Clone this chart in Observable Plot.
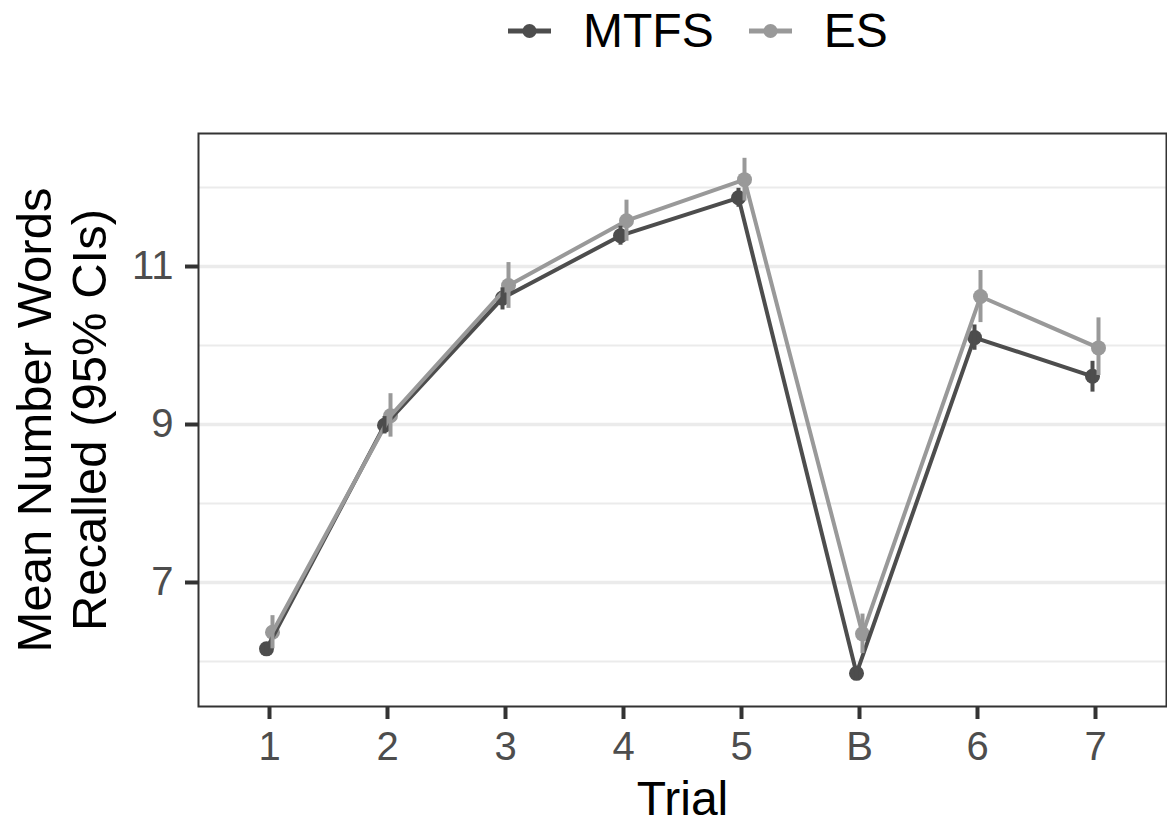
<!DOCTYPE html>
<html>
<head>
<meta charset="utf-8">
<script src="https://cdn.jsdelivr.net/npm/d3@7"></script>
<script src="https://cdn.jsdelivr.net/npm/@observablehq/plot@0.6"></script>
<style>
  html, body { margin: 0; padding: 0; background: #fff; }
  #wrap { position: relative; width: 1167px; height: 823px; font-family: "Liberation Sans", Arial, sans-serif; }
  #legend { position: absolute; left: 508px; top: 1px; height: 60px; display: flex; align-items: center; font-size: 48px; color: #000; }
  #legend .key { display: block; }
  #chart { position: absolute; left: 0; top: 0; }
</style>
</head>
<body>
<div id="wrap">
  <div id="chart"></div>
  <div id="legend"></div>
</div>
<script>
// Categories
const trials = ["1", "2", "3", "4", "5", "B", "6", "7"];
const seriesNames = ["MTFS", "ES"];
const seriesColors = ["#4d4d4d", "#999999"];

// MTFS series (mean and 95% CI)
const mtfsMean = [6.16, 8.99, 10.60, 11.39, 11.87, 5.85, 10.10, 9.61];
const mtfsLow  = [6.09, 8.88, 10.45, 11.27, 11.75, 5.77, 9.94, 9.41];
const mtfsHigh = [6.23, 9.10, 10.73, 11.51, 11.99, 5.93, 10.26, 9.80];

// ES series (mean and 95% CI)
const esMean = [6.37, 9.11, 10.76, 11.58, 12.10, 6.35, 10.62, 9.97];
const esLow  = [6.16, 8.84, 10.47, 11.32, 11.83, 6.10, 10.29, 9.62];
const esHigh = [6.58, 9.39, 11.05, 11.84, 12.37, 6.60, 10.95, 10.35];

// Axis ticks
const yMajor = [7, 9, 11];
const yMinor = [6, 8, 10, 12];

const xTitle = "Trial";
const yTitle = "Mean Number Words\nRecalled (95% CIs)";

const mtfs = trials.map((t, i) => ({trial: t, mean: mtfsMean[i], low: mtfsLow[i], high: mtfsHigh[i]}));
const es = trials.map((t, i) => ({trial: t, mean: esMean[i], low: esLow[i], high: esHigh[i]}));

const mtfsColor = seriesColors[0], esColor = seriesColors[1];
const lw = 4, r = 7.5, off = 3;

const chart = Plot.plot({
  width: 1167,
  height: 823,
  marginLeft: 198,
  marginRight: 1,
  marginTop: 133,
  marginBottom: 117,
  style: {fontFamily: "'Liberation Sans', Arial, sans-serif", background: "white", overflow: "visible"},
  x: {type: "point", domain: trials, padding: 0.6, label: null},
  y: {domain: [5.43, 12.684], label: null},
  marks: [
    Plot.ruleY(yMinor, {stroke: "#ebebeb", strokeWidth: 2}),
    Plot.ruleY(yMajor, {stroke: "#ebebeb", strokeWidth: 3.5}),
    Plot.dot(mtfs, {x: "trial", y: "mean", r, fill: mtfsColor, dx: -off}),
    Plot.dot(es, {x: "trial", y: "mean", r, fill: esColor, dx: off}),
    Plot.line(mtfs, {x: "trial", y: "mean", stroke: mtfsColor, strokeWidth: lw, dx: -off}),
    Plot.line(es, {x: "trial", y: "mean", stroke: esColor, strokeWidth: lw, dx: off}),
    Plot.ruleX(es, {x: "trial", y1: "low", y2: "high", stroke: esColor, strokeWidth: lw, dx: off}),
    Plot.ruleX(mtfs, {x: "trial", y1: "low", y2: "high", stroke: mtfsColor, strokeWidth: lw, dx: -off}),
    Plot.frame({stroke: "#333333", strokeWidth: 2}),
    Plot.axisX({tickSize: 13, tickPadding: 12, stroke: "#333333", strokeWidth: 4, fill: "#4d4d4d", fontSize: 40, label: null}),
    Plot.axisY({ticks: yMajor, tickSize: 13, tickPadding: 12, stroke: "#333333", strokeWidth: 4, fill: "#4d4d4d", fontSize: 40, label: null}),
    Plot.text([xTitle], {frameAnchor: "bottom", lineAnchor: "bottom", dy: 108, fontSize: 48, fill: "black"}),
    Plot.text([yTitle], {frameAnchor: "left", rotate: -90, textAnchor: "middle", lineAnchor: "middle", lineHeight: 1.12, dx: -138, fontSize: 49, fill: "black"})
  ]
});
document.getElementById("chart").appendChild(chart);

// Legend (HTML)
const legend = document.getElementById("legend");
seriesNames.forEach((name, i) => {
  const ns = "http://www.w3.org/2000/svg";
  const svg = document.createElementNS(ns, "svg");
  svg.setAttribute("width", 43);
  svg.setAttribute("height", 16);
  svg.setAttribute("class", "key");
  const ln = document.createElementNS(ns, "line");
  ln.setAttribute("x1", 0); ln.setAttribute("x2", 43);
  ln.setAttribute("y1", 8); ln.setAttribute("y2", 8);
  ln.setAttribute("stroke", seriesColors[i]); ln.setAttribute("stroke-width", 5);
  const c = document.createElementNS(ns, "circle");
  c.setAttribute("cx", 21.5); c.setAttribute("cy", 8); c.setAttribute("r", 7);
  c.setAttribute("fill", seriesColors[i]);
  svg.appendChild(ln); svg.appendChild(c);
  svg.style.marginRight = "32px";
  if (i > 0) svg.style.marginLeft = "35px";
  legend.appendChild(svg);
  const span = document.createElement("span");
  span.textContent = name;
  span.style.lineHeight = "1";
  legend.appendChild(span);
});
</script>
</body>
</html>
